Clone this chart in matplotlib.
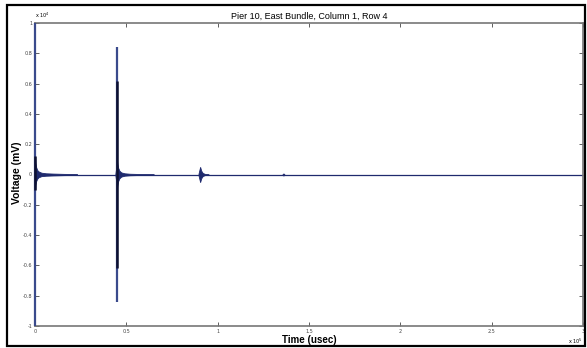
import matplotlib.pyplot as plt
from matplotlib.patches import Rectangle

# time in units of 1e5 usec, voltage in units of 1e4 mV
base_t = [0.0, 3.0]
base_v = [0.0, 0.0]

# burst envelopes
b1_t = [0.0, 0.002, 0.006, 0.012, 0.02, 0.035, 0.06, 0.1, 0.16, 0.23]
b1_up = [0.125, 0.08, 0.05, 0.03, 0.02, 0.012, 0.008, 0.006, 0.004, 0.003]
b1_lo = [-0.105, -0.07, -0.045, -0.028, -0.018, -0.011, -0.008, -0.006, -0.004, -0.003]

b2_t = [0.440, 0.445, 0.447, 0.450, 0.455, 0.462, 0.472, 0.49, 0.52, 0.58, 0.65]
b2_up = [0.005, 0.05, 0.14, 0.08, 0.045, 0.025, 0.014, 0.008, 0.005, 0.003, 0.002]
b2_lo = [-0.005, -0.05, -0.14, -0.08, -0.045, -0.025, -0.014, -0.008, -0.005, -0.003, -0.002]

b3_t = [0.895, 0.900, 0.904, 0.910, 0.918, 0.93, 0.95]
b3_up = [0.005, 0.03, 0.05, 0.025, 0.01, 0.004, 0.002]
b3_lo = [-0.005, -0.03, -0.05, -0.025, -0.01, -0.004, -0.002]

b4_t = [1.355, 1.36, 1.365]
b4_up = [0.002, 0.007, 0.002]
b4_lo = [-0.002, -0.007, -0.002]

# single large spikes (time, peak, trough); first sample saturates
spike_t = [0.0, 0.447]
spike_hi = [1.0, 0.84]
spike_lo = [-1.0, -0.84]
core_hi = [0.12, 0.62]
core_lo = [-0.1, -0.62]

xticks = [0, 0.5, 1, 1.5, 2, 2.5, 3]
xlabels = ['0', '0.5', '1', '1.5', '2', '2.5', '3']
yticks = [-1, -0.8, -0.6, -0.4, -0.2, 0, 0.2, 0.4, 0.6, 0.8, 1]
ylabels = ['-1', '-0.8', '-0.6', '-0.4', '-0.2', '0', '0.2', '0.4', '0.6', '0.8', '1']

navy = '#1f2a6e'
dark = '#0d1030'

fig = plt.figure(figsize=(5.87, 3.48), dpi=100)
fig.patches.append(Rectangle((7 / 587, 2 / 348), 578 / 587, 341 / 348,
                             transform=fig.transFigure, fill=False,
                             edgecolor='black', linewidth=1.6))
ax = fig.add_axes([35 / 587, 22 / 348, 548 / 587, 303 / 348])

ax.plot(base_t, base_v, color=navy, linewidth=0.9)
for t, up, lo in [(b1_t, b1_up, b1_lo), (b2_t, b2_up, b2_lo),
                  (b3_t, b3_up, b3_lo), (b4_t, b4_up, b4_lo)]:
    ax.fill_between(t, lo, up, color=navy, linewidth=0.6, edgecolor=navy,
                    zorder=3)
ax.vlines(spike_t, spike_lo, spike_hi, color='#3a4a8c', linewidth=1.6,
          zorder=3, clip_on=False)
ax.vlines(spike_t, core_lo, core_hi, color=dark, linewidth=1.8, zorder=3,
          clip_on=False)

ax.set_xlim(0, 3)
ax.set_ylim(-1, 1)
ax.set_xticks(xticks)
ax.set_xticklabels(xlabels)
ax.set_yticks(yticks)
ax.set_yticklabels(ylabels)
ax.tick_params(direction='in', top=True, right=True, labelsize=3.5,
               length=3, width=0.6, colors='#444444', pad=2)
for s in ax.spines.values():
    s.set_color('#777777')
    s.set_linewidth(1.2)

ax.set_title('Pier 10, East Bundle, Column 1, Row 4', fontsize=6.5,
             family='Liberation Sans', pad=3)
ax.set_xlabel('Time (usec)', fontsize=7, family='Liberation Sans',
              fontweight='bold', labelpad=1)
fig.text(17 / 587, 1 - 173 / 348, 'Voltage (mV)', rotation=90, fontsize=7.5,
         family='Liberation Sans', fontweight='bold', ha='center', va='center')
ax.text(0.0, 1.01, r'x 10$^4$', transform=ax.transAxes, fontsize=3.5,
        ha='left', va='bottom')
ax.text(1.0, -0.035, r'x 10$^5$', transform=ax.transAxes, fontsize=3.5,
        ha='right', va='top')

fig.savefig('out.png', dpi=100)
plt.close()
